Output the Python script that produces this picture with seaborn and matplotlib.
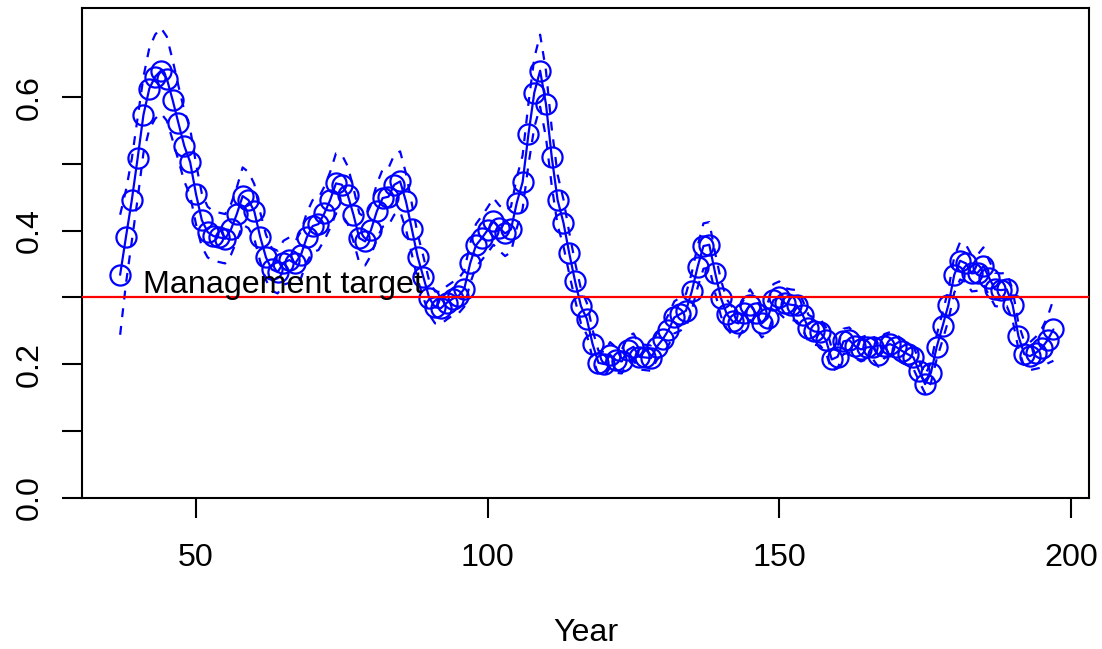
import matplotlib
matplotlib.use("Agg")
import matplotlib.pyplot as plt
import pandas as pd
import seaborn as sns

# ---------------- data ----------------
years = list(range(37, 198))

estimate = [
    0.334, 0.391, 0.446, 0.509, 0.574, 0.613, 0.631, 0.640, 0.628, 0.596,   # 37-46
    0.561, 0.527, 0.503, 0.455, 0.416, 0.398, 0.392, 0.390, 0.388, 0.402,   # 47-56
    0.425, 0.452, 0.446, 0.429, 0.391, 0.360, 0.342, 0.338, 0.352, 0.356,   # 57-66
    0.351, 0.364, 0.390, 0.407, 0.410, 0.426, 0.446, 0.471, 0.469, 0.454,   # 67-76
    0.424, 0.389, 0.384, 0.401, 0.429, 0.449, 0.451, 0.469, 0.474, 0.444,   # 77-86
    0.403, 0.361, 0.330, 0.299, 0.285, 0.284, 0.292, 0.298, 0.302, 0.313,   # 87-96
    0.351, 0.378, 0.389, 0.401, 0.414, 0.404, 0.396, 0.402, 0.442, 0.473,   # 97-106
    0.545, 0.607, 0.640, 0.590, 0.510, 0.446, 0.412, 0.366, 0.324, 0.287,   # 107-116
    0.268, 0.230, 0.202, 0.200, 0.214, 0.206, 0.204, 0.221, 0.226, 0.211,   # 117-126
    0.210, 0.209, 0.226, 0.237, 0.251, 0.270, 0.275, 0.280, 0.309, 0.346,   # 127-136
    0.377, 0.379, 0.337, 0.299, 0.275, 0.264, 0.261, 0.276, 0.289, 0.276,   # 137-146
    0.261, 0.269, 0.296, 0.300, 0.291, 0.289, 0.288, 0.274, 0.254, 0.249,   # 147-156
    0.248, 0.236, 0.207, 0.211, 0.234, 0.236, 0.227, 0.222, 0.225, 0.226,   # 157-166
    0.213, 0.227, 0.230, 0.226, 0.220, 0.215, 0.210, 0.189, 0.170, 0.187,   # 167-176
    0.226, 0.257, 0.289, 0.334, 0.355, 0.351, 0.336, 0.337, 0.347, 0.329,   # 177-186
    0.312, 0.311, 0.312, 0.289, 0.242, 0.215, 0.212, 0.217, 0.224, 0.236,   # 187-196
    0.252,                                                                  # 197
]

lower = [
    0.244, 0.321, 0.384, 0.448, 0.517, 0.552, 0.568, 0.576, 0.565, 0.536,
    0.505, 0.474, 0.453, 0.410, 0.376, 0.360, 0.355, 0.353, 0.351, 0.364,
    0.385, 0.409, 0.404, 0.388, 0.354, 0.326, 0.310, 0.306, 0.319, 0.322,
    0.318, 0.329, 0.353, 0.368, 0.371, 0.386, 0.404, 0.426, 0.424, 0.411,
    0.384, 0.352, 0.348, 0.363, 0.388, 0.406, 0.408, 0.424, 0.429, 0.402,
    0.365, 0.327, 0.299, 0.274, 0.261, 0.260, 0.267, 0.273, 0.276, 0.286,
    0.321, 0.346, 0.356, 0.367, 0.379, 0.370, 0.362, 0.368, 0.404, 0.433,
    0.499, 0.555, 0.586, 0.540, 0.467, 0.408, 0.377, 0.335, 0.296, 0.261,
    0.244, 0.209, 0.184, 0.182, 0.195, 0.187, 0.186, 0.201, 0.206, 0.192,
    0.191, 0.190, 0.206, 0.216, 0.228, 0.246, 0.250, 0.255, 0.281, 0.315,
    0.343, 0.345, 0.307, 0.272, 0.253, 0.243, 0.240, 0.254, 0.266, 0.254,
    0.240, 0.247, 0.272, 0.276, 0.268, 0.266, 0.265, 0.252, 0.234, 0.229,
    0.228, 0.217, 0.190, 0.194, 0.215, 0.217, 0.209, 0.204, 0.207, 0.208,
    0.196, 0.209, 0.212, 0.208, 0.202, 0.198, 0.193, 0.174, 0.156, 0.172,
    0.208, 0.236, 0.266, 0.307, 0.327, 0.323, 0.309, 0.310, 0.319, 0.303,
    0.287, 0.286, 0.287, 0.266, 0.223, 0.196, 0.191, 0.193, 0.195, 0.201,
    0.205,
]

upper = [
    0.424, 0.461, 0.508, 0.570, 0.631, 0.674, 0.694, 0.704, 0.691, 0.656,
    0.617, 0.580, 0.553, 0.501, 0.456, 0.436, 0.429, 0.427, 0.425, 0.440,
    0.465, 0.495, 0.488, 0.470, 0.428, 0.394, 0.374, 0.370, 0.385, 0.390,
    0.384, 0.399, 0.427, 0.446, 0.449, 0.466, 0.488, 0.516, 0.514, 0.497,
    0.464, 0.426, 0.420, 0.439, 0.470, 0.492, 0.494, 0.514, 0.519, 0.486,
    0.441, 0.395, 0.361, 0.324, 0.309, 0.308, 0.317, 0.323, 0.328, 0.340,
    0.381, 0.410, 0.422, 0.435, 0.449, 0.438, 0.430, 0.436, 0.480, 0.513,
    0.591, 0.659, 0.694, 0.640, 0.553, 0.484, 0.447, 0.397, 0.352, 0.313,
    0.292, 0.251, 0.220, 0.218, 0.233, 0.225, 0.222, 0.241, 0.246, 0.230,
    0.229, 0.228, 0.246, 0.258, 0.274, 0.294, 0.300, 0.305, 0.337, 0.377,
    0.411, 0.413, 0.367, 0.326, 0.297, 0.285, 0.282, 0.298, 0.312, 0.298,
    0.282, 0.291, 0.320, 0.324, 0.314, 0.312, 0.311, 0.296, 0.274, 0.269,
    0.268, 0.255, 0.224, 0.228, 0.253, 0.255, 0.245, 0.240, 0.243, 0.244,
    0.230, 0.245, 0.248, 0.244, 0.238, 0.232, 0.227, 0.204, 0.184, 0.202,
    0.244, 0.278, 0.312, 0.361, 0.383, 0.379, 0.363, 0.364, 0.375, 0.355,
    0.337, 0.336, 0.337, 0.312, 0.261, 0.234, 0.233, 0.241, 0.253, 0.271,
    0.297,
]

target_value = 0.3
target_label = "Management target"
target_label_pos = (40.9, 0.307)
x_label = "Year"
x_ticks = [50, 100, 150, 200]
x_tick_labels = ["50", "100", "150", "200"]
y_ticks = [0.0, 0.1, 0.2, 0.3, 0.4, 0.5, 0.6]
y_tick_labels = ["0.0", "", "0.2", "", "0.4", "", "0.6"]

# ---------------- style ----------------
sns.set_style("white")
plt.rcParams["font.family"] = ["Liberation Sans", "DejaVu Sans"]

FS = 23.2
W, H = 1102, 649
fig = plt.figure(figsize=(W / 100, H / 100), dpi=100)
left, right, top, bottom = 82, 1089, 8, 497.5
ax = fig.add_axes([left / W, 1 - bottom / H, (right - left) / W, (bottom - top) / H])

df = pd.DataFrame({"Year": years, "estimate": estimate, "lower": lower, "upper": upper})

blue = "#0000FF"
sns.lineplot(data=df, x="Year", y="lower", ax=ax, color=blue, lw=1.6,
             linestyle=(0, (4, 4)), estimator=None, sort=False)
sns.lineplot(data=df, x="Year", y="upper", ax=ax, color=blue, lw=1.6,
             linestyle=(0, (4, 4)), estimator=None, sort=False)
sns.lineplot(data=df, x="Year", y="estimate", ax=ax, color=blue, lw=1.6,
             marker="o", markersize=14.5, markerfacecolor="none",
             markeredgecolor=blue, markeredgewidth=1.6,
             estimator=None, sort=False)

ax.axhline(target_value, color="#FF0000", lw=1.6, zorder=5)
ax.text(target_label_pos[0], target_label_pos[1], target_label,
        ha="left", va="baseline", fontsize=FS, color="black", zorder=6)

ax.set_xlim(30.46, 203.1)
ax.set_ylim(0, 0.734)

ax.set_xticks(x_ticks)
ax.set_xticklabels(x_tick_labels)
ax.set_yticks(y_ticks)
ax.set_yticklabels(y_tick_labels, rotation=90, va="center")

ax.tick_params(axis="both", direction="out", length=14.4, width=1.5,
               color="black", labelsize=FS, labelcolor="black")
ax.tick_params(axis="x", pad=18.5, bottom=True, top=False)
ax.tick_params(axis="y", pad=12.5, left=True, right=False)

for sp in ax.spines.values():
    sp.set_visible(True)
    sp.set_color("black")
    sp.set_linewidth(1.5)

ax.set_xlabel(x_label, fontsize=FS, color="black")
ax.xaxis.set_label_coords(0.5, -0.246)
ax.set_ylabel("")
ax.grid(False)

fig.savefig("out.png", dpi=100, facecolor="white")
